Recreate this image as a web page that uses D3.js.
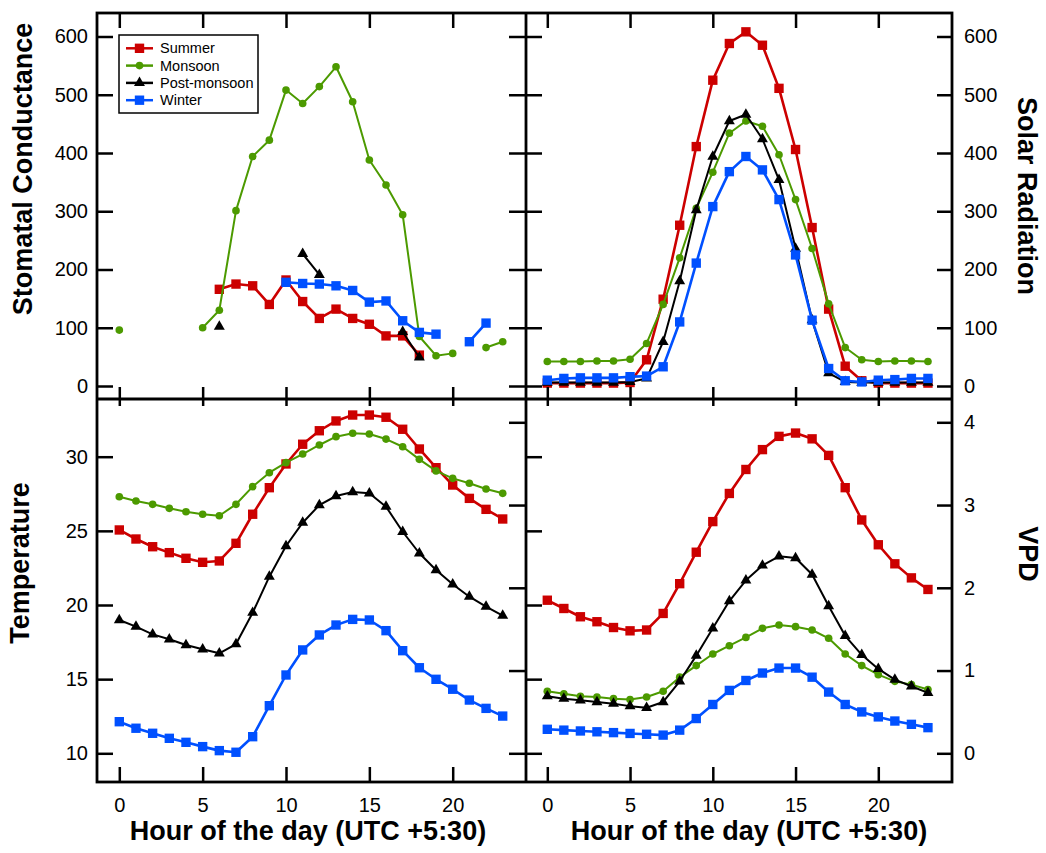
<!DOCTYPE html>
<html>
<head>
<meta charset="utf-8">
<script src="https://cdn.jsdelivr.net/npm/d3@7/dist/d3.min.js"></script>
<style>
  body { margin: 0; background: #fff; }
  svg text { font-family: "Liberation Sans", Arial, sans-serif; fill: #000; }
</style>
</head>
<body>
<div id="chart"></div>
<script>
var hours = [0, 1, 2, 3, 4, 5, 6, 7, 8, 9, 10, 11, 12, 13, 14, 15, 16, 17, 18, 19, 20, 21, 22, 23];
var hourTicks = [0, 5, 10, 15, 20];
var seasons = ['Summer', 'Monsoon', 'Post-monsoon', 'Winter'];
var seasonColors = ['#cc0000', '#4c9a00', '#000000', '#0050ff'];
var seasonMarkers = ['square', 'circle', 'triangle', 'square'];

// stomatal conductance (gaps = no data)
var condSummer = [null, null, null, null, null, null, 166, 175, 172, 140, 182, 145, 116, 132, 116, 106, 86, 86, 53, null, null, null, null, null];
var condMonsoon = [96, null, null, null, null, 100, 130, 301, 394, 422, 508, 485, 514, 548, 488, 388, 345, 294, 85, 52, 56, null, 66, 76];
var condPost = [null, null, null, null, null, null, 102, null, null, null, null, 227, 191, null, null, null, null, 93, 49, null, null, null, null, null];
var condWinter = [null, null, null, null, null, null, null, null, null, null, 178, 176, 175, 172, 164, 144, 146, 112, 92, 89, null, 76, 108, null];

// solar radiation
var solarSummer = [5, 5, 5, 5, 5, 6, 45, 149, 276, 411, 525, 588, 608, 585, 511, 406, 272, 132, 34, 9, 5, 5, 5, 5];
var solarMonsoon = [42, 42, 42, 43, 43, 46, 73, 140, 220, 305, 367, 434, 455, 446, 397, 320, 236, 141, 66, 45, 42, 43, 43, 42];
var solarPost = [6, 6, 6, 6, 6, 7, 13, 76, 180, 302, 394, 455, 466, 424, 354, 236, 113, 22, 7, 6, 6, 6, 6, 6];
var solarWinter = [10, 13, 14, 14, 14, 16, 17, 33, 110, 211, 308, 368, 394, 371, 320, 225, 113, 30, 9, 7, 10, 11, 13, 13];

// temperature
var tempSummer = [25.06, 24.45, 23.93, 23.53, 23.15, 22.88, 22.97, 24.16, 26.12, 27.91, 29.51, 30.84, 31.75, 32.41, 32.81, 32.81, 32.66, 31.85, 30.52, 29.26, 28.09, 27.19, 26.45, 25.8];
var tempMonsoon = [27.3, 27.01, 26.79, 26.52, 26.29, 26.12, 26.02, 26.79, 27.98, 28.92, 29.6, 30.18, 30.79, 31.35, 31.58, 31.53, 31.19, 30.67, 29.82, 29.04, 28.54, 28.21, 27.82, 27.53];
var tempPost = [18.99, 18.54, 18.02, 17.69, 17.3, 17.01, 16.74, 17.37, 19.48, 21.91, 23.98, 25.55, 26.74, 27.35, 27.62, 27.53, 26.63, 24.94, 23.49, 22.36, 21.4, 20.56, 19.89, 19.28];
var tempWinter = [12.13, 11.69, 11.35, 11.01, 10.74, 10.45, 10.18, 10.07, 11.12, 13.21, 15.28, 16.97, 17.98, 18.65, 19.03, 18.99, 18.27, 16.92, 15.77, 14.99, 14.32, 13.59, 13.03, 12.51];

// vapour pressure deficit
var vpdSummer = [1.85, 1.75, 1.65, 1.59, 1.52, 1.48, 1.49, 1.69, 2.05, 2.43, 2.8, 3.14, 3.43, 3.67, 3.83, 3.87, 3.8, 3.6, 3.21, 2.82, 2.52, 2.29, 2.12, 1.98];
var vpdMonsoon = [0.75, 0.72, 0.69, 0.68, 0.66, 0.65, 0.68, 0.75, 0.92, 1.06, 1.2, 1.3, 1.4, 1.51, 1.55, 1.53, 1.49, 1.39, 1.2, 1.06, 0.95, 0.87, 0.83, 0.77];
var vpdPost = [0.69, 0.66, 0.64, 0.62, 0.6, 0.57, 0.55, 0.62, 0.87, 1.18, 1.51, 1.84, 2.09, 2.27, 2.38, 2.36, 2.16, 1.78, 1.42, 1.19, 1.02, 0.89, 0.81, 0.73];
var vpdWinter = [0.29, 0.28, 0.27, 0.26, 0.25, 0.24, 0.23, 0.22, 0.28, 0.42, 0.59, 0.76, 0.88, 0.97, 1.03, 1.03, 0.92, 0.74, 0.59, 0.5, 0.44, 0.39, 0.35, 0.31];

var condTicks = [0, 100, 200, 300, 400, 500, 600];
var tempTicks = [10, 15, 20, 25, 30];
var vpdTicks = [0, 1, 2, 3, 4];

var W = 1046, H = 853;
var frame = { left: 97, right: 952, top: 13, bottom: 782, midX: 526, midY: 399 };
var tickLen = 15;

var svg = d3.select('#chart')
  .append('svg')
  .attr('width', W)
  .attr('height', H);

// x scales, one per column
var xLeft = d3.scaleLinear().domain([0, 20]).range([119.3, 452.7]);
var xRight = d3.scaleLinear().domain([0, 20]).range([547.3, 878.3]);

// y scales
var yCond = d3.scaleLinear().domain([0, 600]).range([386, 36.5]);
var ySolar = d3.scaleLinear().domain([0, 600]).range([386, 36.5]);
var yTemp = d3.scaleLinear().domain([10, 30]).range([753.3, 456.7]);
var yVpd = d3.scaleLinear().domain([0, 4]).range([753.3, 422.3]);

var panels = [
  { x: xLeft, y: yCond, series: [condSummer, condMonsoon, condPost, condWinter], clip: [frame.left, frame.top, frame.midX, frame.midY] },
  { x: xRight, y: ySolar, series: [solarSummer, solarMonsoon, solarPost, solarWinter], clip: [frame.midX, frame.top, frame.right, frame.midY] },
  { x: xLeft, y: yTemp, series: [tempSummer, tempMonsoon, tempPost, tempWinter], clip: [frame.left, frame.midY, frame.midX, frame.bottom] },
  { x: xRight, y: yVpd, series: [vpdSummer, vpdMonsoon, vpdPost, vpdWinter], clip: [frame.midX, frame.midY, frame.right, frame.bottom] }
];

function markerPath(type) {
  if (type == 'square') return d3.symbol().type(d3.symbolSquare).size(88)();
  if (type == 'triangle') return d3.symbol().type(d3.symbolTriangle).size(52)();
  return d3.symbol().type(d3.symbolCircle).size(46)();
}

var defs = svg.append('defs');

//draw series
panels.forEach(function (p, pi) {
  defs.append('clipPath')
    .attr('id', 'clip-' + pi)
    .append('rect')
    .attr('x', p.clip[0])
    .attr('y', p.clip[1])
    .attr('width', p.clip[2] - p.clip[0])
    .attr('height', p.clip[3] - p.clip[1]);

  var g = svg.append('g').attr('clip-path', 'url(#clip-' + pi + ')');

  p.series.forEach(function (vals, si) {
    var pts = hours.map(function (h, i) { return { h: h, v: vals[i] }; });
    var line = d3.line()
      .defined(function (d) { return d.v != null; })
      .x(function (d) { return p.x(d.h); })
      .y(function (d) { return p.y(d.v); });

    g.append('path')
      .attr('d', line(pts))
      .attr('fill', 'none')
      .attr('stroke', seasonColors[si])
      .attr('stroke-width', si == 0 || si == 3 ? 2.6 : 2)
      .attr('stroke-linejoin', 'round');

    g.append('g')
      .selectAll('path')
      .data(pts.filter(function (d) { return d.v != null; }))
      .enter()
      .append('path')
      .attr('d', markerPath(seasonMarkers[si]))
      .attr('transform', function (d) { return 'translate(' + p.x(d.h) + ',' + p.y(d.v) + ')'; })
      .attr('fill', seasonColors[si]);
  });
});

// axis helper: ticks only, the frame is drawn separately
function drawAxis(axis, tx, ty, labels) {
  var g = svg.append('g')
    .attr('transform', 'translate(' + tx + ',' + ty + ')')
    .call(axis.tickFormat(d3.format('d')));
  g.select('.domain').remove();
  g.selectAll('line').attr('stroke', '#000').attr('stroke-width', 2.5);
  g.selectAll('text').attr('font-size', 20).attr('font-family', '"Liberation Sans", Arial, sans-serif');
  if (!labels) g.selectAll('text').remove();
  return g;
}

//x ticks: top edge, middle border, bottom edge
[xLeft, xRight].forEach(function (x) {
  drawAxis(d3.axisBottom(x).tickValues(hourTicks).tickSize(tickLen), 0, frame.top, false);
  drawAxis(d3.axisBottom(x).tickValues(hourTicks).tickSize(19), 0, frame.midY - 12, false);
  drawAxis(d3.axisBottom(x).tickValues(hourTicks).tickSize(-tickLen).tickPadding(16), 0, frame.bottom, true);
});

//y ticks, top row
drawAxis(d3.axisLeft(yCond).tickValues(condTicks).tickSize(-16).tickPadding(9), frame.left, 0, true);
drawAxis(d3.axisLeft(yCond).tickValues(condTicks).tickSize(17), frame.midX, 0, false);
drawAxis(d3.axisRight(ySolar).tickValues(condTicks).tickSize(16), frame.midX, 0, false);
drawAxis(d3.axisRight(ySolar).tickValues(condTicks).tickSize(-tickLen).tickPadding(12), frame.right, 0, true)
  .selectAll('text').attr('x', 12);

//y ticks, bottom row
drawAxis(d3.axisLeft(yTemp).tickValues(tempTicks).tickSize(-16).tickPadding(9), frame.left, 0, true);
drawAxis(d3.axisLeft(yVpd).tickValues(vpdTicks).tickSize(17), frame.midX, 0, false);
drawAxis(d3.axisRight(yTemp).tickValues(tempTicks).tickSize(16), frame.midX, 0, false);
drawAxis(d3.axisRight(yVpd).tickValues(vpdTicks).tickSize(-tickLen).tickPadding(12), frame.right, 0, true)
  .selectAll('text').attr('x', 12);

//frame
svg.append('rect')
  .attr('x', frame.left)
  .attr('y', frame.top)
  .attr('width', frame.right - frame.left)
  .attr('height', frame.bottom - frame.top)
  .attr('fill', 'none')
  .attr('stroke', '#000')
  .attr('stroke-width', 2.8);
svg.append('line')
  .attr('x1', frame.midX).attr('x2', frame.midX)
  .attr('y1', frame.top).attr('y2', frame.bottom)
  .attr('stroke', '#000').attr('stroke-width', 2.8);
svg.append('line')
  .attr('x1', frame.left).attr('x2', frame.right)
  .attr('y1', frame.midY).attr('y2', frame.midY)
  .attr('stroke', '#000').attr('stroke-width', 2.8);

//axis titles
var titleFont = 27;
function title(text, x, y, rot) {
  svg.append('text')
    .attr('transform', 'translate(' + x + ',' + y + ')' + (rot ? ' rotate(' + rot + ')' : ''))
    .attr('text-anchor', 'middle')
    .attr('font-size', titleFont)
    .attr('font-weight', 'bold')
    .text(text);
}
title('Stomatal Conductance', 32, 169, -90);
title('Temperature', 29, 563, -90);
title('Solar Radiation', 1018, 196, 90);
title('VPD', 1019, 554, 90);
title('Hour of the day (UTC +5:30)', 308, 840, 0);
title('Hour of the day (UTC +5:30)', 749, 840, 0);

//legend
var legend = svg.append('g').attr('transform', 'translate(119,35)');
legend.append('rect')
  .attr('width', 139)
  .attr('height', 78)
  .attr('fill', '#fff')
  .attr('stroke', '#000')
  .attr('stroke-width', 1.5);
var items = legend.selectAll('g.item')
  .data(seasons)
  .enter()
  .append('g')
  .attr('class', 'item')
  .attr('transform', function (d, i) { return 'translate(0,' + (13.3 + i * 17.3) + ')'; });
items.append('line')
  .attr('x1', 7).attr('x2', 34)
  .attr('stroke', function (d, i) { return seasonColors[i]; })
  .attr('stroke-width', 2.5);
items.append('path')
  .attr('d', function (d, i) { return markerPath(seasonMarkers[i]); })
  .attr('transform', 'translate(20.5,0)')
  .attr('fill', function (d, i) { return seasonColors[i]; });
items.append('text')
  .attr('x', 41)
  .attr('dy', '0.35em')
  .attr('font-size', 14.5)
  .text(function (d) { return d; });
</script>
</body>
</html>
